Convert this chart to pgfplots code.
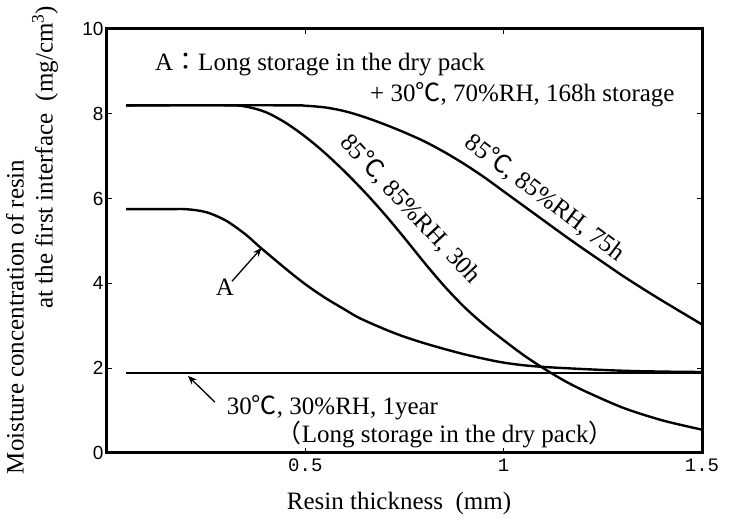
\documentclass[border=0pt]{standalone}
\usepackage{fontspec}
\setmainfont{Liberation Serif}
\newfontfamily\cjk{Noto Sans CJK JP}
\newfontfamily\sansf{Liberation Sans}
\newfontfamily\monof{Liberation Mono}
\usepackage{pgfplots}
\pgfplotsset{compat=1.18}
\usetikzlibrary{arrows.meta}
\newcommand{\dc}{{\cjk ℃}}
\newcommand{\lab}{\fontsize{25}{28}\selectfont}
\newcommand{\alab}{\fontsize{25}{28}\selectfont}
\begin{document}
\begin{tikzpicture}
\path[use as bounding box] (-107pt,-71pt) rectangle (624pt,453pt);
\begin{axis}[
  scale only axis, width=595pt, height=424pt,
  axis line style={line width=3pt},
  xmin=0, xmax=1.5, ymin=0, ymax=10,
  xtick={0.5,1,1.5}, xticklabels={0.5,1,1.5},
  ytick={0,2,4,6,8,10},
  tick align=inside, major tick length=5pt,
  every tick/.style={line width=1.2pt,black},
  /pgf/number format/assume math mode=true,
  xticklabel style={font=\monof\fontsize{19}{19}\selectfont, yshift=-2pt},
  yticklabel style={font=\sansf\fontsize{19}{19}\selectfont},
  clip=false,
]
% 30C 30%RH 1 year
\addplot[black, line width=2.4pt, smooth, mark=none] coordinates {(0.048,1.89) (0.5,1.89) (1.0,1.89) (1.5,1.89)};
% A
\addplot[black, line width=2.4pt, smooth, mark=none] coordinates {(0.048,5.75) (0.15,5.75) (0.2,5.75) (0.25,5.68) (0.3,5.48) (0.35,5.15) (0.385,4.86) (0.45,4.35) (0.5,3.98) (0.55,3.66) (0.6,3.38) (0.637,3.18) (0.7,2.92) (0.75,2.74) (0.814,2.55) (0.9,2.33) (0.983,2.16) (1.04,2.08) (1.1,2.03) (1.2,1.98) (1.3,1.94) (1.4,1.92) (1.5,1.91)};
% 85C 85%RH 30h
\addplot[black, line width=2.4pt, smooth, mark=none] coordinates {(0.048,8.2) (0.3,8.2) (0.35,8.17) (0.4,8.04) (0.45,7.79) (0.5,7.46) (0.55,7.07) (0.6,6.63) (0.65,6.15) (0.7,5.63) (0.75,5.07) (0.8,4.49) (0.85,3.94) (0.9,3.45) (0.95,3.03) (1.0,2.66) (1.05,2.31) (1.1,2.0) (1.15,1.72) (1.2,1.48) (1.3,1.07) (1.4,0.77) (1.5,0.55)};
% 85C 85%RH 75h
\addplot[black, line width=2.4pt, smooth, mark=none] coordinates {(0.048,8.2) (0.45,8.2) (0.5,8.19) (0.55,8.15) (0.6,8.06) (0.65,7.92) (0.7,7.75) (0.75,7.56) (0.8,7.35) (0.85,7.1) (0.9,6.82) (0.95,6.51) (1.0,6.17) (1.05,5.83) (1.1,5.49) (1.15,5.15) (1.2,4.82) (1.25,4.5) (1.3,4.18) (1.35,3.88) (1.4,3.59) (1.45,3.31) (1.5,3.03)};

\draw[line width=3pt] (rel axis cs:0,0) rectangle (rel axis cs:1,1);

\node[anchor=base west, inner sep=0pt, font=\lab] at (axis cs:0.121,9.03) {A{\cjk ：}Long storage in the dry pack};
\node[anchor=base west, inner sep=0pt, font=\lab] at (axis cs:0.663,8.3) {+ 30\dc, 70\%RH, 168h storage};
\node[rotate=-47, inner sep=0pt, font=\lab] at (axis cs:0.765,5.76) {85\dc, 85\%RH, 30h};
\node[rotate=-37, inner sep=0pt, font=\lab] at (axis cs:1.105,6.02) {85\dc, 85\%RH, 75h};
\node[inner sep=0pt, font=\lab] at (axis cs:0.297,3.92) {A};
\draw[-{Stealth[length=9pt,width=7pt]}, line width=1.3pt] (axis cs:0.315,4.05) -- (axis cs:0.39,4.84);
\draw[-{Stealth[length=9pt,width=7pt]}, line width=1.3pt] (axis cs:0.272,1.20) -- (axis cs:0.204,1.82);
\node[anchor=base west, inner sep=0pt, font=\lab] at (axis cs:0.302,0.90) {30\dc, 30\%RH, 1year};
\node[anchor=base west, inner sep=0pt, font=\lab] at (axis cs:0.428,0.24) {{\cjk （}Long storage in the dry pack{\cjk ）}};

\node[anchor=base west, inner sep=0pt, font=\alab] at (axis cs:0.453,-1.34) {Resin thickness\ \ (mm)};
\node[rotate=90, inner sep=0pt, font=\alab] at (axis cs:-0.232,3.21) {Moisture concentration of resin};
\node[rotate=90, anchor=west, inner sep=0pt, font=\alab] at (axis cs:-0.156,3.40) {at the first interface\ \ (mg/cm\textsuperscript{3})};
\end{axis}
\end{tikzpicture}
\end{document}
